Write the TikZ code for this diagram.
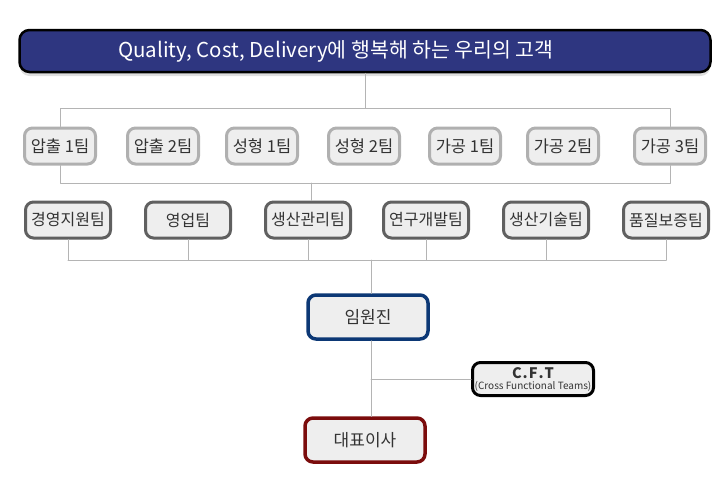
\documentclass[tikz,border=0pt]{standalone}
\usepackage{fontspec}
\setmainfont{Noto Sans CJK KR}
\usetikzlibrary{calc, shadows}
\definecolor{bannerblue}{RGB}{46,54,128}
\definecolor{teamgray}{RGB}{176,176,176}
\definecolor{deptgray}{RGB}{96,96,96}
\definecolor{execblue}{RGB}{12,56,117}
\definecolor{ceored}{RGB}{123,12,12}
\definecolor{boxfill}{RGB}{238,238,238}
\definecolor{linkgray}{RGB}{180,180,180}

\tikzset{
	orgbox/.style={rounded corners=8pt, fill=boxfill, text=black!80, inner sep=0pt, line width=3pt},
	teambox/.style={orgbox, draw=teamgray, minimum width=71pt, minimum height=36pt, font=\fontsize{16.5}{16.5}\selectfont},
	deptbox/.style={orgbox, draw=deptgray, minimum width=85pt, minimum height=36pt, font=\fontsize{16}{16}\selectfont},
	topbox/.style={orgbox, line width=3.5pt, minimum width=120pt, minimum height=44pt, font=\fontsize{17}{17}\selectfont},
	link/.style={draw=linkgray, line width=1pt}
}

\begin{document}
\begin{tikzpicture}[x=1pt, y=-1pt, line cap=round, line join=round]
	\useasboundingbox (0,0) rectangle (720,480);
	
	%========================
	% Top: customer banner
	%========================
	\node[rounded corners=10pt, draw=black, line width=2.5pt, fill=bannerblue,
	text=white, minimum width=691pt, minimum height=42pt, inner sep=0pt,
	drop shadow={shadow xshift=0pt, shadow yshift=-4pt, opacity=0.25},
	font=\fontsize{20.5}{20.5}\selectfont] (banner) at (365,51)
	{Quality, Cost, Delivery에 행복해 하는 우리의 고객\hspace*{58pt}};
	
	%========================
	% Row 1: production teams
	%========================
	\foreach \name/\x/\txt in {t1/60/압출 1팀, t2/163/압출 2팀, t3/262/성형 1팀,
		t4/364/성형 2팀, t5/465/가공 1팀, t6/563/가공 2팀, t7/670/가공 3팀}
	\node[teambox] (\name) at (\x,146) {\txt};
	
	% bus lines of row 1
	\coordinate (bus1) at (365,108);
	\coordinate (bus2) at (311,183);
	\draw[link] (banner.south) -- (bus1);
	\draw[link] (t1.north) -- (t1.north |- bus1) -- (t7.north |- bus1) -- (t7.north);
	\draw[link] (t1.south) -- (t1.south |- bus2) -- (t7.south |- bus2) -- (t7.south);
	
	%========================
	% Row 2: departments
	%========================
	\foreach \name/\x/\txt in {d1/68/경영지원팀, d2/188/영업팀, d3/308/생산관리팀,
		d4/426/연구개발팀, d5/546/생산기술팀, d6/666/품질보증팀}
	\node[deptbox] (\name) at (\x,220) {\txt};
	\draw[link] (bus2) -- (bus2 |- d3.north);
	
	% bus line of row 2
	\coordinate (bus3) at (371,260);
	\foreach \name in {d1,d2,d3,d4,d5,d6}
	\draw[link] (\name.south) -- (\name.south |- bus3);
	\draw[link] (d1.south |- bus3) -- (d6.south |- bus3);
	
	%========================
	% Bottom: executives, CEO, CFT
	%========================
	\node[topbox, draw=execblue] (exec) at (368,317) {임원진};
	\node[topbox, draw=ceored] (ceo) at (365,440) {대표이사};
	\node[orgbox, draw=black, minimum width=121pt, minimum height=33pt, align=center] (cft) at (533,379)
	{{\fontsize{14.5}{14.5}\selectfont\bfseries C\kern1pt.\kern1pt F\kern1pt.\kern1pt T}\\[-1pt]{\fontsize{10}{10}\selectfont (Cross Functional Teams)}};
	
	\draw[link] (bus3) -- (bus3 |- exec.north);
	\draw[link] (exec.south -| bus3) -- (ceo.north -| bus3);
	\draw[link] (cft.west) -- (cft.west -| bus3);
	
\end{tikzpicture}
\end{document}
